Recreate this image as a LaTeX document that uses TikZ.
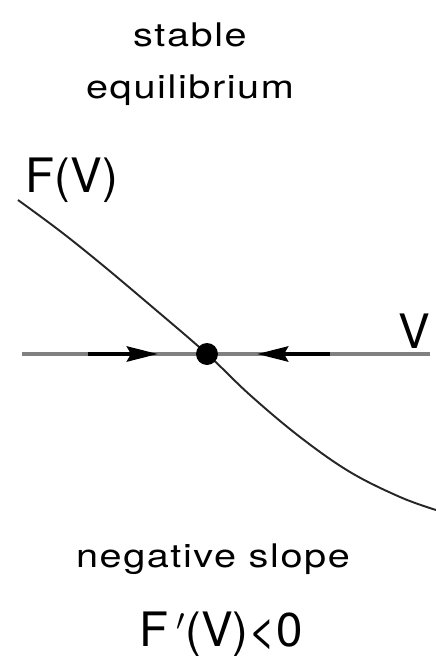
\documentclass[tikz,border=0pt]{standalone}
\usepackage{fontspec}
\setmainfont{TeX Gyre Heros}
\newfontfamily\spaced[LetterSpace=4]{TeX Gyre Heros}
\usetikzlibrary{arrows.meta}
\newcommand{\widetext}[1]{\scalebox{1.22}[1]{#1}}

\begin{document}
\begin{tikzpicture}[
    x=0.02cm, y=-0.02cm,
    caption/.style={font=\fontsize{18.5}{20}\selectfont\spaced, inner sep=0pt, anchor=base},
    biglabel/.style={font=\fontsize{27}{30}\selectfont, inner sep=0pt, anchor=base},
    axis/.style={line width=2.4pt, black!50},
    flow/.style={-{Stealth[length=0.62cm, width=0.3cm, inset=0.08cm]}, line width=2.6pt},
    curve/.style={line width=1.1pt, black!85},
    fixed/.style={circle, fill=black, inner sep=0pt, minimum size=0.44cm}
]
\useasboundingbox (0,0) rectangle (436,656);

% === TITLE ===
\node[caption] (title1) at (190,46) {\widetext{stable}};
\node[caption] (title2) at (190,98) {\widetext{equilibrium}};

% === AXIS ===
\coordinate (axL) at (22,354);
\coordinate (axR) at (430,354);
\draw[axis] (axL) -- (axR);
\node[biglabel] (Vlab) at (414,348) {V};

% flow towards the fixed point
\coordinate (inL) at (88,354);
\coordinate (tipL) at (158,354);
\coordinate (inR) at (330,354);
\coordinate (tipR) at (257,354);
\draw[flow] (inL) -- (tipL);
\draw[flow] (inR) -- (tipR);

% === F(V) ===
\node[biglabel] (Flab) at (72,192) {F(V)};
\draw[curve] plot[smooth, tension=0.6] coordinates {(18,200) (60,231) (100,263) (150,305) (207,354) (250,395) (300,437) (350,472) (400,497) (436,510)};

\node[fixed] (eq) at (207,354) {};

% === SLOPE ===
\node[caption] (slope) at (213,567) {\widetext{negative slope}};
\node[biglabel] (cond) at (221,646) {F\,$'$(V)<0};

\end{tikzpicture}
\end{document}
